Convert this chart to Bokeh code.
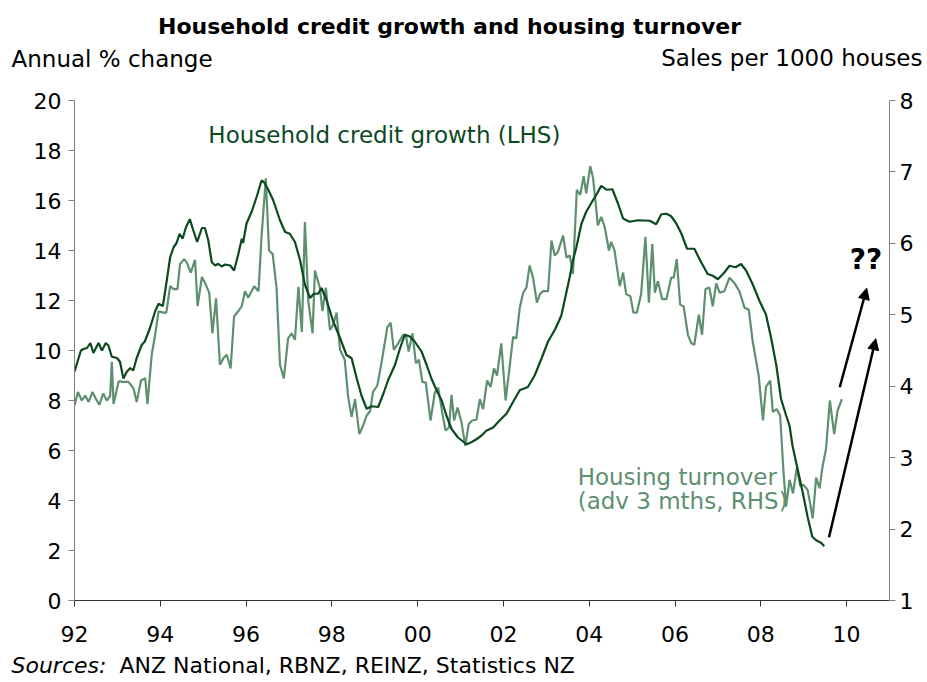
from bokeh.plotting import figure
from bokeh.layouts import column, row
from bokeh.models import Range1d, LinearAxis, Label, Arrow, NormalHead, FixedTicker, ColumnDataSource
from bokeh.embed import file_html
from bokeh.resources import INLINE

# ---------------- data ----------------
credit_years = [
    1992.00, 1992.15, 1992.21, 1992.29, 1992.37, 1992.44, 1992.56, 1992.64, 1992.73, 1992.79,
    1992.87, 1992.99, 1993.06, 1993.14, 1993.22, 1993.30, 1993.37, 1993.45, 1993.57, 1993.64,
    1993.76, 1993.88, 1993.96, 1994.06, 1994.15, 1994.23, 1994.31, 1994.38, 1994.45, 1994.52,
    1994.60, 1994.69, 1994.77, 1994.86, 1994.97, 1995.04, 1995.12, 1995.20, 1995.28, 1995.35,
    1995.43, 1995.51, 1995.63, 1995.72, 1995.82, 1995.90, 1995.93, 1996.01, 1996.13, 1996.25,
    1996.36, 1996.42, 1996.52, 1996.63, 1996.79, 1996.91, 1997.02, 1997.14, 1997.26, 1997.37,
    1997.49, 1997.58, 1997.68, 1997.76, 1997.88, 1998.03, 1998.19, 1998.34, 1998.46, 1998.58,
    1998.69, 1998.81, 1998.93, 1999.08, 1999.20, 1999.31, 1999.47, 1999.59, 1999.70, 1999.82,
    1999.93, 2000.09, 2000.21, 2000.32, 2000.44, 2000.56, 2000.67, 2000.79, 2000.94, 2001.14,
    2001.25, 2001.37, 2001.49, 2001.60, 2001.76, 2001.91, 2002.07, 2002.22, 2002.38, 2002.57,
    2002.73, 2002.89, 2003.04, 2003.20, 2003.35, 2003.54, 2003.62, 2003.70, 2003.82, 2003.93,
    2004.09, 2004.18, 2004.28, 2004.40, 2004.54, 2004.67, 2004.79, 2004.94, 2005.14, 2005.41,
    2005.56, 2005.68, 2005.80, 2005.91, 2006.03, 2006.15, 2006.28, 2006.45, 2006.61, 2006.76,
    2006.88, 2007.00, 2007.15, 2007.27, 2007.41, 2007.54, 2007.66, 2007.81, 2007.97, 2008.12,
    2008.24, 2008.36, 2008.47, 2008.59, 2008.67, 2008.74, 2008.86, 2008.98, 2009.09, 2009.20,
    2009.29, 2009.41, 2009.48,
]
credit_growth = [
    9.15, 10.0, 10.06, 10.1, 10.3, 9.9, 10.3, 10.0, 10.3, 10.2,
    9.75, 9.7, 9.55, 8.88, 9.15, 9.3, 9.2, 9.7, 10.23, 10.36,
    10.9, 11.57, 11.87, 11.78, 12.79, 13.73, 14.13, 14.3, 14.67, 14.47,
    14.94, 15.25, 14.8, 14.34, 14.9, 14.9, 14.4, 13.53, 13.4, 13.47,
    13.36, 13.44, 13.4, 13.2, 13.86, 14.47, 14.3, 15.08, 15.55, 16.16,
    16.8, 16.73, 16.42, 16.02, 15.21, 14.74, 14.67, 14.34, 13.6, 12.65,
    12.1, 12.27, 12.27, 12.5, 12.0, 11.17, 10.5, 9.82, 9.69, 8.88,
    8.2, 7.67, 7.77, 7.74, 8.27, 8.81, 9.42, 10.09, 10.63, 10.56,
    10.36, 9.96, 9.42, 8.88, 8.41, 8.0, 7.4, 6.86, 6.52, 6.25,
    6.33, 6.45, 6.6, 6.79, 6.92, 7.2, 7.47, 7.93, 8.41, 8.54,
    9.01, 9.69, 10.36, 10.83, 11.4, 12.9, 13.6, 14.13, 15.08, 15.55,
    16.02, 16.27, 16.59, 16.43, 16.45, 15.88, 15.28, 15.15, 15.21, 15.19,
    15.05, 15.45, 15.47, 15.37, 15.08, 14.67, 14.07, 14.07, 13.53, 13.06,
    12.99, 12.85, 13.12, 13.39, 13.33, 13.46, 13.19, 12.65, 11.98, 11.44,
    10.5, 9.42, 8.07, 7.4, 6.99, 6.18, 5.24, 4.3, 3.35, 2.55,
    2.41, 2.3, 2.17,
]

turnover_years = [
    1992.00, 1992.08, 1992.17, 1992.25, 1992.33, 1992.42, 1992.50, 1992.58, 1992.67, 1992.75,
    1992.83, 1992.87, 1992.91, 1993.03, 1993.14, 1993.26, 1993.375, 1993.45, 1993.55, 1993.65,
    1993.70, 1993.80, 1993.88, 1993.96, 1994.07, 1994.14, 1994.23, 1994.31, 1994.40, 1994.46,
    1994.555, 1994.62, 1994.71, 1994.81, 1994.87, 1994.97, 1995.04, 1995.14, 1995.215, 1995.30,
    1995.39, 1995.47, 1995.55, 1995.64, 1995.72, 1995.82, 1995.90, 1995.975, 1996.05, 1996.19,
    1996.29, 1996.36, 1996.46, 1996.535, 1996.62, 1996.71, 1996.79, 1996.88, 1996.98, 1997.06,
    1997.14, 1997.22, 1997.30, 1997.372, 1997.45, 1997.55, 1997.605, 1997.72, 1997.78, 1997.86,
    1997.955, 1998.03, 1998.11, 1998.19, 1998.30, 1998.38, 1998.46, 1998.54, 1998.64, 1998.73,
    1998.81, 1998.89, 1998.96, 1999.06, 1999.16, 1999.24, 1999.29, 1999.37, 1999.445, 1999.545,
    1999.66, 1999.725, 1999.79, 1999.88, 1999.96, 2000.03, 2000.11, 2000.19, 2000.30, 2000.40,
    2000.48, 2000.57, 2000.65, 2000.73, 2000.79, 2000.85, 2000.93, 2001.02, 2001.11, 2001.19,
    2001.27, 2001.37, 2001.45, 2001.525, 2001.62, 2001.70, 2001.78, 2001.85, 2001.95, 2002.05,
    2002.13, 2002.225, 2002.30, 2002.38, 2002.46, 2002.535, 2002.61, 2002.69, 2002.78, 2002.85,
    2002.92, 2003.04, 2003.12, 2003.195, 2003.27, 2003.39, 2003.47, 2003.545, 2003.62, 2003.71,
    2003.79, 2003.87, 2003.93, 2004.025, 2004.09, 2004.15, 2004.20, 2004.28, 2004.36, 2004.46,
    2004.51, 2004.59, 2004.71, 2004.79, 2004.86, 2004.96, 2005.03, 2005.11, 2005.21, 2005.31,
    2005.39, 2005.47, 2005.53, 2005.60, 2005.70, 2005.80, 2005.91, 2005.97, 2006.04, 2006.12,
    2006.20, 2006.30, 2006.38, 2006.45, 2006.555, 2006.63, 2006.71, 2006.80, 2006.88, 2006.96,
    2007.04, 2007.15, 2007.27, 2007.39, 2007.50, 2007.62, 2007.72, 2007.81, 2007.95, 2008.05,
    2008.12, 2008.22, 2008.28, 2008.37, 2008.45, 2008.53, 2008.59, 2008.67, 2008.75, 2008.84,
    2008.92, 2008.99, 2009.09, 2009.15, 2009.21, 2009.29, 2009.37, 2009.44, 2009.52, 2009.61,
    2009.71, 2009.79, 2009.89,
]
turnover_sales = [
    3.73, 3.92, 3.80, 3.87, 3.78, 3.92, 3.82, 3.74, 3.90, 3.80,
    3.86, 4.34, 3.75, 4.07, 4.06, 4.06, 3.97, 3.78, 4.08, 4.11,
    3.75, 4.44, 4.72, 5.05, 5.03, 5.03, 5.40, 5.36, 5.36, 5.71,
    5.78, 5.73, 5.59, 5.77, 5.12, 5.53, 5.45, 5.31, 4.74, 5.23,
    4.30, 4.39, 4.44, 4.25, 4.98, 5.05, 5.12, 5.33, 5.24, 5.40,
    5.33, 6.09, 6.91, 5.90, 5.85, 5.38, 4.30, 4.11, 4.67, 4.74,
    4.65, 5.39, 4.76, 6.30, 5.19, 4.74, 5.62, 5.38, 5.05, 5.38,
    4.79, 4.86, 5.03, 4.51, 4.37, 3.85, 3.57, 3.82, 3.33, 3.45,
    3.59, 3.65, 3.92, 4.01, 4.34, 4.63, 4.82, 4.89, 4.51, 4.60,
    4.72, 4.72, 4.485, 4.74, 4.32, 4.37, 4.06, 4.05, 3.52, 3.91,
    3.98, 3.64, 3.38, 3.42, 3.88, 3.52, 3.70, 3.50, 3.165, 3.47,
    3.52, 3.53, 3.82, 3.68, 4.08, 3.99, 4.25, 4.15, 4.60, 3.80,
    4.20, 4.69, 4.67, 5.10, 5.31, 5.38, 5.69, 5.52, 5.17, 5.29,
    5.33, 5.33, 6.04, 5.83, 5.88, 6.11, 5.80, 5.83, 5.57, 6.75,
    6.68, 6.94, 6.70, 7.08, 6.91, 6.56, 6.25, 6.37, 6.23, 5.90,
    6.02, 5.90, 5.40, 5.59, 5.29, 5.26, 5.03, 5.03, 5.29, 6.09,
    5.17, 5.99, 5.31, 5.47, 5.22, 5.22, 5.52, 5.52, 5.78, 5.14,
    5.12, 4.72, 4.60, 4.58, 5.00, 4.72, 5.36, 5.38, 5.12, 5.44,
    5.31, 5.33, 5.52, 5.44, 5.33, 5.10, 5.07, 4.63, 4.15, 3.52,
    3.99, 4.08, 3.64, 3.68, 3.59, 2.79, 2.315, 2.69, 2.50, 2.86,
    2.60, 2.62, 2.55, 2.36, 2.15, 2.72, 2.57, 2.88, 3.12, 3.80,
    3.33, 3.66, 3.82,
]
assert len(credit_years) == len(credit_growth)
assert len(turnover_years) == len(turnover_sales)

x_ticks = [1992, 1994, 1996, 1998, 2000, 2002, 2004, 2006, 2008, 2010]
x_tick_labels = ["92", "94", "96", "98", "00", "02", "04", "06", "08", "10"]
left_ticks = [0, 2, 4, 6, 8, 10, 12, 14, 16, 18, 20]
right_ticks = [1, 2, 3, 4, 5, 6, 7, 8]

# ---------------- style ----------------
FONT = "DejaVu Sans"
CREDIT_COLOR = "#0b4a1f"
TURN_COLOR = "#5e9070"
AXIS_GREY = "#808080"
W = 927


def blank_fig(h):
    f = figure(width=W, height=h, x_range=Range1d(0, W), y_range=Range1d(0, h),
               min_border=0, output_backend="svg", toolbar_location=None)
    f.axis.visible = False
    f.grid.visible = False
    f.outline_line_color = None
    return f


def add_label(fig, text, x, y, size="23px", color="black", align="left",
              baseline="alphabetic", style="normal"):
    fig.add_layout(Label(x=x, y=y, text=text, text_font=FONT, text_font_size=size,
                         text_color=color, text_align=align, text_baseline=baseline,
                         text_font_style=style))


# ---- header (title + axis captions) ----
TOP_H = 88
top = blank_fig(TOP_H)
add_label(top, "Household credit growth and housing turnover", 449, TOP_H - 26,
          size="22px", align="center", style="bold")
add_label(top, "Annual % change", 11, TOP_H - 58)
add_label(top, "Sales per 1000 houses", 922, TOP_H - 57, align="right")

# ---- main chart ----
p = figure(frame_width=815, frame_height=500,
           min_border_left=74, min_border_right=38, min_border_top=12, min_border_bottom=50,
           x_range=Range1d(1992, 2011), y_range=Range1d(0, 20),
           output_backend="svg", toolbar_location=None)
p.extra_y_ranges = {"rhs": Range1d(1, 8)}
p.outline_line_color = None
p.grid.visible = False

xa = p.xaxis[0]
xa.ticker = FixedTicker(ticks=x_ticks)
xa.major_label_overrides = {t: l for t, l in zip(x_ticks, x_tick_labels)}
xa.axis_line_color = "#333333"
xa.major_tick_line_color = "#333333"
xa.minor_tick_line_color = None
xa.major_tick_in = 0
xa.major_tick_out = 6
xa.major_label_standoff = 19
xa.major_label_text_font = FONT
xa.major_label_text_font_size = "22px"
xa.major_label_text_color = "black"

ya = p.yaxis[0]
ya.ticker = FixedTicker(ticks=left_ticks)
ya.axis_line_color = AXIS_GREY
ya.major_tick_line_color = AXIS_GREY
ya.minor_tick_line_color = None
ya.major_tick_in = 0
ya.major_tick_out = 6
ya.major_label_standoff = 7
ya.major_label_text_font = FONT
ya.major_label_text_font_size = "22px"
ya.major_label_text_color = "black"

ra = LinearAxis(y_range_name="rhs", ticker=FixedTicker(ticks=right_ticks))
ra.axis_line_color = AXIS_GREY
ra.major_tick_line_color = AXIS_GREY
ra.minor_tick_line_color = None
ra.major_tick_in = 0
ra.major_tick_out = 6
ra.major_label_standoff = 4
ra.major_label_text_font = FONT
ra.major_label_text_font_size = "22px"
ra.major_label_text_color = "black"
p.add_layout(ra, "right")

src_t = ColumnDataSource(dict(x=turnover_years, y=turnover_sales))
src_c = ColumnDataSource(dict(x=credit_years, y=credit_growth))
p.line("x", "y", source=src_t, y_range_name="rhs", line_color=TURN_COLOR, line_width=2.2)
p.line("x", "y", source=src_c, line_color=CREDIT_COLOR, line_width=2.2)

add_label(p, "Household credit growth (LHS)", 1995.12, 18.62, color=CREDIT_COLOR)
add_label(p, "Housing turnover", 2003.73, 4.94, color=TURN_COLOR)
add_label(p, "(adv 3 mths, RHS)", 2003.73, 3.98, color=TURN_COLOR)
add_label(p, "??", 2010.45, 13.66, size="28px", align="center", baseline="middle",
          style="bold")

for xs, ys, xe, ye in [(2009.84, 8.53, 2010.47, 12.49), (2009.59, 2.53, 2010.68, 10.47)]:
    p.add_layout(Arrow(end=NormalHead(size=11, fill_color="black", line_color="black"),
                       x_start=xs, y_start=ys, x_end=xe, y_end=ye,
                       line_color="black", line_width=2.5))

# ---- footer (sources) ----
BOT_H = 30
bot = blank_fig(BOT_H)
add_label(bot, "Sources:", 11, BOT_H - 15, size="22px", style="italic")
add_label(bot, "ANZ National, RBNZ, REINZ, Statistics NZ", 119, BOT_H - 15, size="22px")

layout = column(row(top), p, row(bot), spacing=0)
open("out.html", "w").write(file_html(layout, INLINE))
